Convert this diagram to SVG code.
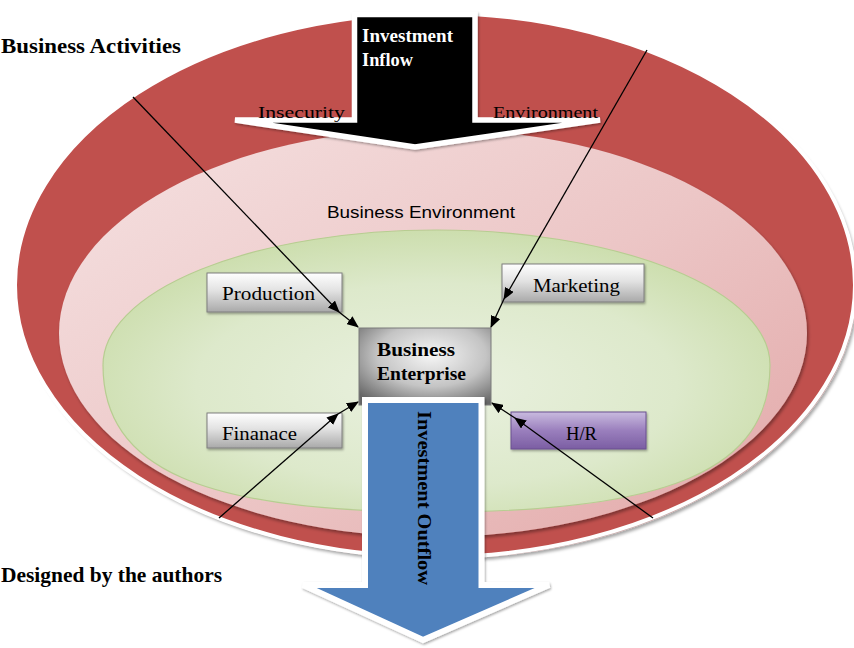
<svg xmlns="http://www.w3.org/2000/svg" width="854" height="648" viewBox="0 0 854 648">
<defs>
<style>
.serif{font-family:"Liberation Serif","Times New Roman",serif;fill:#000}
.bold{font-weight:bold}
.lbl{font-size:18px}
.conn{stroke:#000;stroke-width:1.3;fill:none;marker-end:url(#ah)}
.gbox{fill:url(#gGray);stroke:#7f7f7f;stroke-width:1}
</style>
<marker id="ah" viewBox="0 0 12 10" refX="11" refY="5" markerWidth="12" markerHeight="10" markerUnits="userSpaceOnUse" orient="auto">
<path d="M0,0 L12,5 L0,10 Z" fill="#000"/>
</marker>
<linearGradient id="gPink" x1="0" y1="0.15" x2="1" y2="1">
<stop offset="0" stop-color="#f4dede"/>
<stop offset="0.5" stop-color="#ecc6c6"/>
<stop offset="1" stop-color="#e2a7a7"/>
</linearGradient>
<radialGradient id="gGreen" cx="0.5" cy="0.55" r="0.6">
<stop offset="0" stop-color="#eaf1e0"/>
<stop offset="0.6" stop-color="#dde9cb"/>
<stop offset="1" stop-color="#c8dba6"/>
</radialGradient>
<linearGradient id="gGray" x1="0" y1="0" x2="0" y2="1">
<stop offset="0" stop-color="#ffffff"/>
<stop offset="0.45" stop-color="#e2e2e2"/>
<stop offset="1" stop-color="#a9a9a9"/>
</linearGradient>
<radialGradient id="gEnt" cx="0.55" cy="0.35" r="0.75">
<stop offset="0" stop-color="#f6f6f6"/>
<stop offset="0.55" stop-color="#c4c4c4"/>
<stop offset="1" stop-color="#666666"/>
</radialGradient>
<linearGradient id="gPurple" x1="0" y1="0" x2="0" y2="1">
<stop offset="0" stop-color="#c9bbdf"/>
<stop offset="0.5" stop-color="#9a7fbd"/>
<stop offset="1" stop-color="#7b5ea3"/>
</linearGradient>
<filter id="sh" x="-10%" y="-10%" width="120%" height="130%">
<feDropShadow dx="1.5" dy="2.5" stdDeviation="1.5" flood-color="#000" flood-opacity="0.35"/>
</filter>
<filter id="shs" x="-10%" y="-10%" width="120%" height="130%">
<feDropShadow dx="1" dy="1.5" stdDeviation="1" flood-color="#000" flood-opacity="0.35"/>
</filter>
</defs>

<g id="outer-ring">
<ellipse cx="437" cy="287" rx="420" ry="272" fill="#c9a9a9" filter="url(#sh)"/>
<ellipse cx="435" cy="285" rx="420" ry="272" fill="#c0504d" stroke="#ffffff" stroke-width="4"/>
</g>
<g id="business-environment">
<ellipse cx="433" cy="333" rx="374" ry="204" fill="url(#gPink)" filter="url(#sh)"/>
<text class="serif" x="327" y="218" style="font-family:'Liberation Sans',Arial,sans-serif;font-size:16px" textLength="188" lengthAdjust="spacingAndGlyphs">Business Environment</text>
</g>
<g id="inner-field">
<path d="M103,365 A333.5,135 0 0 1 770,365 C770,469 670,512 436,512 C202,512 103,469 103,365 Z" fill="url(#gGreen)" stroke="#b7cd91" stroke-width="1.2"/>
</g>

<g id="investment-inflow">
<polygon points="354.5,14.5 475,14.5 475,120 600,120 415,147 235,120 354.5,120" fill="#000" stroke="#ffffff" stroke-width="5.5" stroke-linejoin="miter" filter="url(#shs)"/>
<text class="serif bold" x="362" y="42" style="fill:#fff;font-size:19px" textLength="91" lengthAdjust="spacingAndGlyphs">Investment</text>
<text class="serif bold" x="362" y="66" style="fill:#fff;font-size:19px" textLength="51" lengthAdjust="spacingAndGlyphs">Inflow</text>
<text class="serif" x="258" y="118" style="font-size:17px" textLength="87" lengthAdjust="spacingAndGlyphs">Insecurity</text>
<text class="serif" x="493" y="118" style="font-size:17px" textLength="105" lengthAdjust="spacingAndGlyphs">Environment</text>
</g>

<g id="production">
<rect class="gbox" x="207" y="273" width="135" height="39" filter="url(#shs)"/>
<text class="serif lbl" x="222" y="300" textLength="93" lengthAdjust="spacingAndGlyphs">Production</text>
</g>
<g id="marketing">
<rect class="gbox" x="502" y="264" width="142" height="38" filter="url(#shs)"/>
<text class="serif lbl" x="533" y="292" textLength="87" lengthAdjust="spacingAndGlyphs">Marketing</text>
</g>
<g id="finanace">
<rect class="gbox" x="207" y="413" width="135" height="35" filter="url(#shs)"/>
<text class="serif lbl" x="222" y="440" textLength="75" lengthAdjust="spacingAndGlyphs">Finanace</text>
</g>
<g id="hr">
<rect x="511" y="412" width="135" height="37" fill="url(#gPurple)" stroke="#6a5090" stroke-width="1" filter="url(#shs)"/>
<text class="serif lbl" x="566" y="440" textLength="31" lengthAdjust="spacingAndGlyphs">H/R</text>
</g>
<g id="business-enterprise">
<rect x="359" y="328" width="132" height="77" fill="url(#gEnt)" stroke="#7a7a7a" stroke-width="1"/>
<text class="serif bold" x="377" y="356" style="font-size:18px" textLength="78" lengthAdjust="spacingAndGlyphs">Business</text>
<text class="serif bold" x="377" y="380" style="font-size:18px" textLength="89" lengthAdjust="spacingAndGlyphs">Enterprise</text>
</g>

<g id="investment-outflow">
<polygon points="365,400 481.5,400 481.5,585 549,585 423,640 303,585 365,585" fill="#4f81bd" stroke="#ffffff" stroke-width="6" filter="url(#shs)"/>
<text class="serif bold" transform="translate(418,411) rotate(90)" style="font-size:19px" textLength="174" lengthAdjust="spacingAndGlyphs">Investment Outflow</text>
</g>

<g id="connectors">
<line class="conn" x1="133" y1="97" x2="339" y2="312"/>
<line class="conn" x1="339" y1="312" x2="358" y2="327"/>
<line class="conn" x1="647" y1="50" x2="504" y2="299"/>
<line class="conn" x1="504" y1="299" x2="491" y2="327"/>
<line class="conn" x1="219" y1="518" x2="338" y2="414"/>
<line class="conn" x1="338" y1="414" x2="358" y2="402"/>
<line class="conn" x1="653" y1="518" x2="515" y2="418"/>
<line class="conn" x1="515" y1="418" x2="492" y2="403"/>
</g>

<g id="labels">
<text class="serif bold" x="1" y="53" style="font-size:21px" textLength="180" lengthAdjust="spacingAndGlyphs">Business Activities</text>
<text class="serif bold" x="1" y="582" style="font-size:21px" textLength="221" lengthAdjust="spacingAndGlyphs">Designed by the authors</text>
</g>
</svg>
